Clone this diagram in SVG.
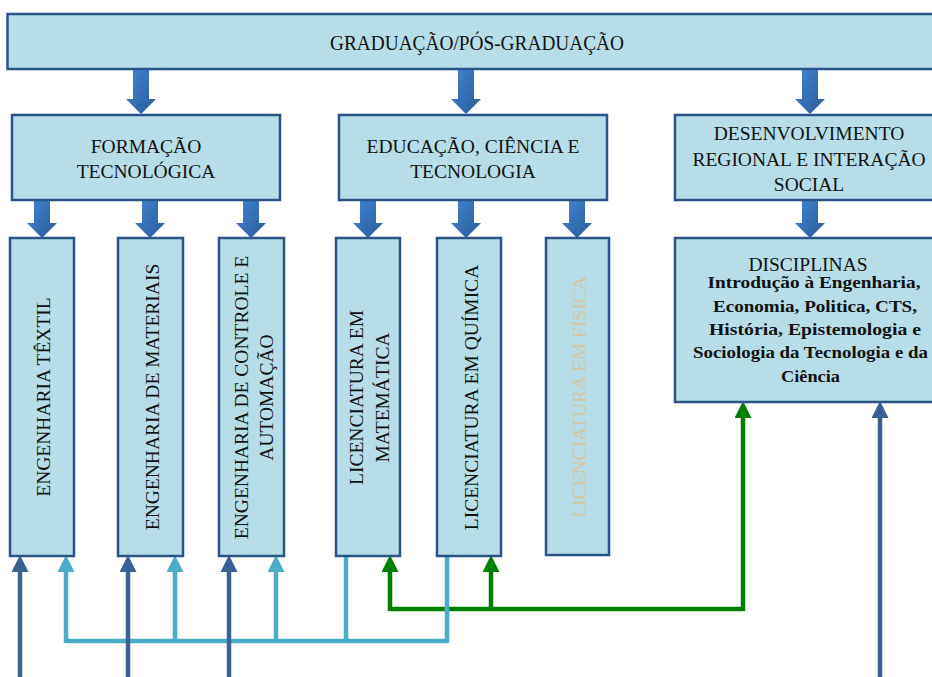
<svg xmlns="http://www.w3.org/2000/svg" width="932" height="677" viewBox="0 0 932 677">
<style>
.box{fill:#b7dee8;stroke:#2a5388;stroke-width:2.5}
.t{font-family:"Liberation Serif","Times New Roman",serif;fill:#111;text-anchor:middle}
.h{font-size:19.5px}
.v{font-size:19.5px}
.d{font-size:17px;font-weight:bold}
.blk{fill:url(#bg)}
.dk{fill:none;stroke:#3a6194;stroke-width:4.5}
.lb{fill:none;stroke:#4badc6;stroke-width:4.5;stroke-linejoin:round}
.gr{fill:none;stroke:#008000;stroke-width:4.5;stroke-linejoin:round}
</style>
<defs>
<linearGradient id="bg" x1="0" y1="0" x2="1" y2="1">
<stop offset="0" stop-color="#4186d6"/>
<stop offset="1" stop-color="#2a5996"/>
</linearGradient>
<marker id="mdk" markerUnits="userSpaceOnUse" viewBox="0 0 17 17" markerWidth="17" markerHeight="17" refX="10" refY="8.5" orient="auto"><path d="M0,0 L17,8.5 L0,17 z" fill="#3a6194"/></marker>
<marker id="mlb" markerUnits="userSpaceOnUse" viewBox="0 0 17 17" markerWidth="17" markerHeight="17" refX="10" refY="8.5" orient="auto"><path d="M0,0 L17,8.5 L0,17 z" fill="#4badc6"/></marker>
<marker id="mgr" markerUnits="userSpaceOnUse" viewBox="0 0 17 17" markerWidth="17" markerHeight="17" refX="10" refY="8.5" orient="auto"><path d="M0,0 L17,8.5 L0,17 z" fill="#008000"/></marker>
</defs>

<g id="connectors">
<!-- block arrows from top box -->
<path class="blk" d="M133,69 H149 V99 H156 L141,114 L126,99 H133 Z"/>
<path class="blk" d="M458,69 H474 V99 H481 L466,114 L451,99 H458 Z"/>
<path class="blk" d="M802,69 H818 V99 H825 L810,114 L795,99 H802 Z"/>
<!-- block arrows from second row -->
<path class="blk" d="M34,200 H50 V223 H57 L42,238 L27,223 H34 Z"/>
<path class="blk" d="M142,200 H158 V223 H165 L150,238 L135,223 H142 Z"/>
<path class="blk" d="M243,200 H259 V223 H266 L251,238 L236,223 H243 Z"/>
<path class="blk" d="M360,200 H376 V223 H383 L368,238 L353,223 H360 Z"/>
<path class="blk" d="M458,200 H474 V223 H481 L466,238 L451,223 H458 Z"/>
<path class="blk" d="M569,200 H585 V223 H592 L577,238 L562,223 H569 Z"/>
<path class="blk" d="M802,200 H818 V223 H825 L810,238 L795,223 H802 Z"/>
<!-- green connectors -->
<path class="gr" d="M390,609 H743"/>
<path class="gr" d="M390,611 V562" marker-end="url(#mgr)"/>
<path class="gr" d="M491,609 V562" marker-end="url(#mgr)"/>
<path class="gr" d="M743,611 V408" marker-end="url(#mgr)"/>
<!-- light blue connectors -->
<path class="lb" d="M66,641 H447"/>
<path class="lb" d="M66,643 V562" marker-end="url(#mlb)"/>
<path class="lb" d="M175,641 V562" marker-end="url(#mlb)"/>
<path class="lb" d="M276,641 V562" marker-end="url(#mlb)"/>
<path class="lb" d="M346,556 V641"/>
<path class="lb" d="M447,556 V643"/>
<!-- dark blue connectors -->
<path class="dk" d="M20,677 V562" marker-end="url(#mdk)"/>
<path class="dk" d="M128,677 V562" marker-end="url(#mdk)"/>
<path class="dk" d="M229,677 V562" marker-end="url(#mdk)"/>
<path class="dk" d="M880,677 V408" marker-end="url(#mdk)"/>
</g>

<g id="graduacao">
<rect class="box" x="7.5" y="14" width="940" height="55"/>
<text class="t" x="477" y="50" font-size="20.5" textLength="294" lengthAdjust="spacingAndGlyphs">GRADUAÇÃO/PÓS-GRADUAÇÃO</text>
</g>

<g id="formacao">
<rect class="box" x="12" y="115" width="268" height="85"/>
<text class="t h" x="146" y="153">FORMAÇÃO</text>
<text class="t h" x="146" y="178">TECNOLÓGICA</text>
</g>

<g id="educacao">
<rect class="box" x="339" y="115" width="268" height="85"/>
<text class="t h" x="473" y="153">EDUCAÇÃO, CIÊNCIA E</text>
<text class="t h" x="473" y="178">TECNOLOGIA</text>
</g>

<g id="desenvolvimento">
<rect class="box" x="675" y="115" width="270" height="85"/>
<text class="t h" x="809" y="140">DESENVOLVIMENTO</text>
<text class="t h" x="809" y="166">REGIONAL E INTERAÇÃO</text>
<text class="t h" x="809" y="191">SOCIAL</text>
</g>

<g id="textil">
<rect class="box" x="10" y="238" width="64" height="318"/>
<text class="t v" transform="translate(49.5,397) rotate(-90)">ENGENHARIA TÊXTIL</text>
</g>

<g id="materiais">
<rect class="box" x="118" y="238" width="65" height="318"/>
<text class="t v" transform="translate(158.5,397) rotate(-90)">ENGENHARIA DE MATERIAIS</text>
</g>

<g id="controle">
<rect class="box" x="219" y="238" width="65" height="318"/>
<text class="t v" transform="translate(248,397.5) rotate(-90)">ENGENHARIA DE CONTROLE E</text>
<text class="t v" transform="translate(273,397.5) rotate(-90)">AUTOMAÇÃO</text>
</g>

<g id="matematica">
<rect class="box" x="336" y="238" width="64" height="318"/>
<text class="t v" transform="translate(363,397.5) rotate(-90)">LICENCIATURA EM</text>
<text class="t v" transform="translate(389,397.5) rotate(-90)">MATEMÁTICA</text>
</g>

<g id="quimica">
<rect class="box" x="437" y="238" width="64" height="318"/>
<text class="t v" transform="translate(478,397.5) rotate(-90)">LICENCIATURA EM QUÍMICA</text>
</g>

<g id="fisica">
<rect class="box" x="546" y="238" width="63" height="317"/>
<text class="t v" style="fill:#d6c69f" transform="translate(586,397) rotate(-90)">LICENCIATURA EM FÍSICA</text>
</g>

<g id="disciplinas">
<rect class="box" x="675" y="238" width="270" height="164"/>
<text class="t h" x="808" y="271">DISCIPLINAS</text>
<text class="t d" x="814" y="288" textLength="213" lengthAdjust="spacingAndGlyphs">Introdução à Engenharia,</text>
<text class="t d" x="815" y="311.5" textLength="204" lengthAdjust="spacingAndGlyphs">Economia, Politica, CTS,</text>
<text class="t d" x="815" y="335" textLength="212" lengthAdjust="spacingAndGlyphs">História, Epistemologia e</text>
<text class="t d" x="810.5" y="358" textLength="235" lengthAdjust="spacingAndGlyphs">Sociologia da Tecnologia e da</text>
<text class="t d" x="810.5" y="381.5" textLength="59" lengthAdjust="spacingAndGlyphs">Ciência</text>
</g>
</svg>
